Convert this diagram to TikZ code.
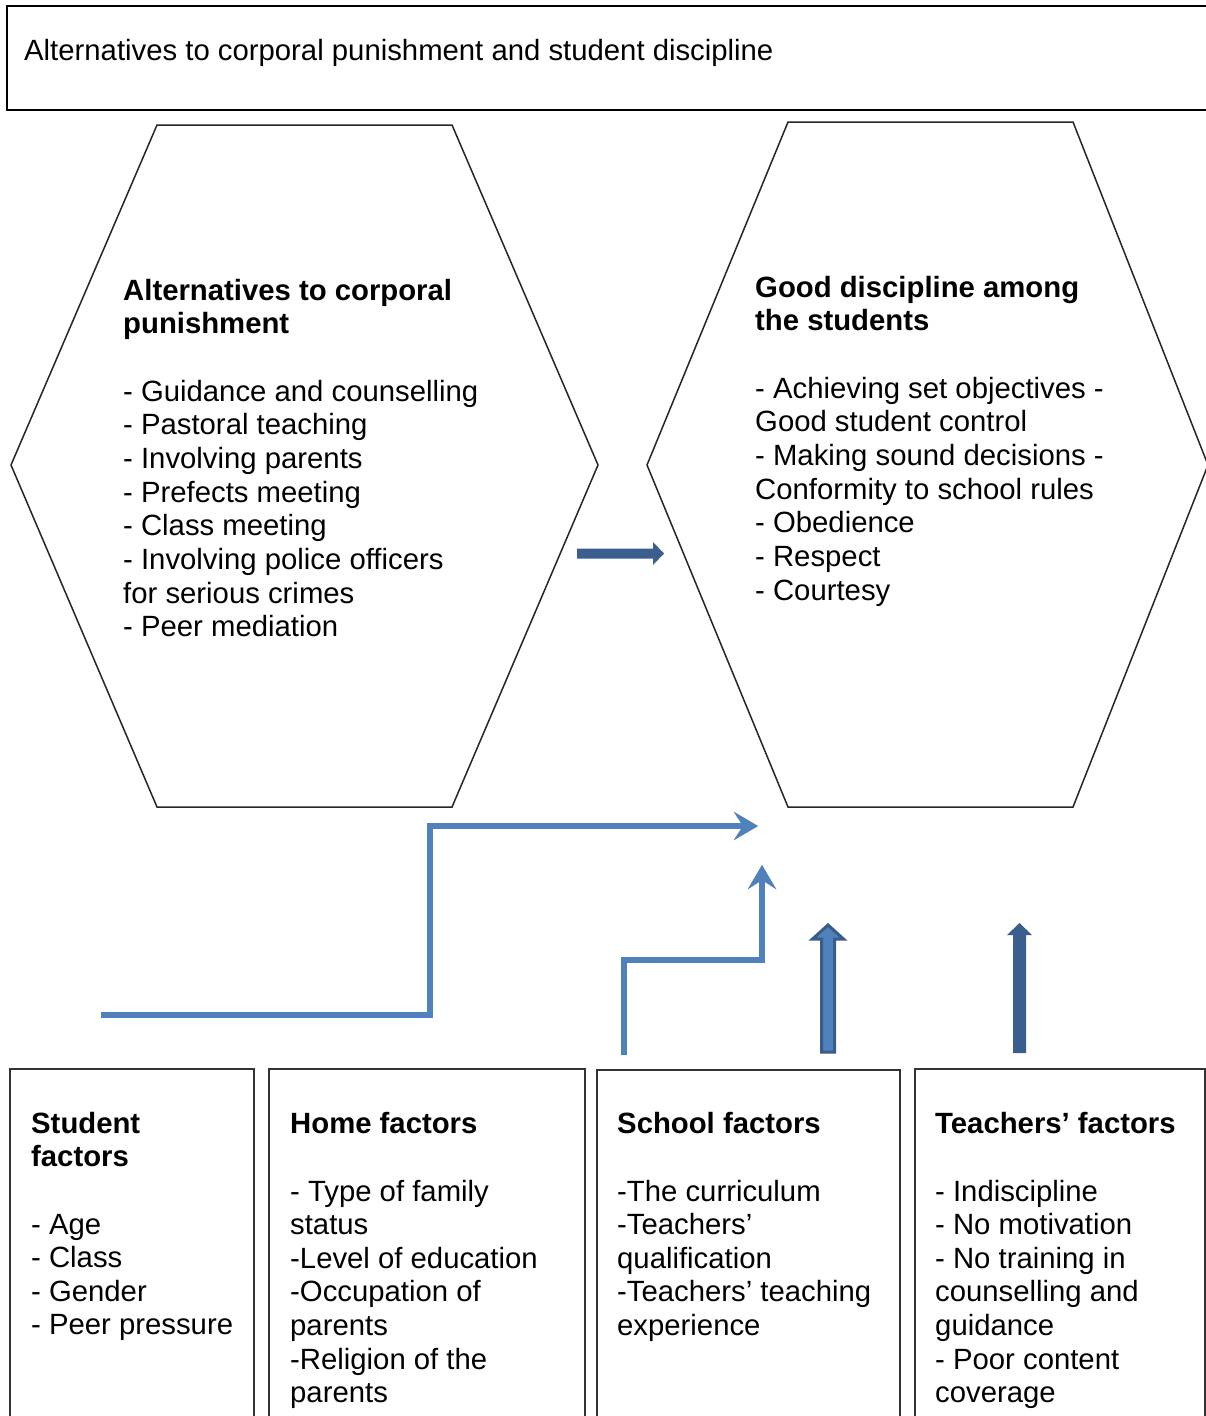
\documentclass[tikz,border=0pt]{standalone}
\usepackage{fontspec}
\setmainfont{Liberation Sans}
\usetikzlibrary{arrows.meta}
\definecolor{lblue}{HTML}{4F81BD}
\definecolor{dblue}{HTML}{3A5F8F}
\definecolor{dborder}{HTML}{385D8A}
\begin{document}
\begin{tikzpicture}[x=1pt,y=-1pt,
  txt/.style={anchor=base west, inner sep=0pt, font=\fontsize{29.3}{33.5}\selectfont},
  hdr/.style={anchor=base west, inner sep=0pt, font=\fontsize{29.3}{33.5}\selectfont\bfseries},
  hexline/.style={draw=black!85, line width=1.5pt, line join=miter},
  boxline/.style={draw=black!80, line width=1.5pt},
  titleline/.style={draw=black, line width=2.2pt},
  flow/.style={draw=lblue, line width=6pt, -{Stealth[length=24pt,width=28pt,inset=9pt]}},
  flowshadow/.style={draw=black!35, line width=6pt, -{Stealth[length=24pt,width=28pt,inset=9pt]}},
  blockdark/.style={fill=dblue, draw=none},
  blocklight/.style={fill=lblue, draw=dborder, line width=3pt, line join=miter}]
\useasboundingbox (0,0) rectangle (1206,1416);
\clip (0,0) rectangle (1206,1416);
\fill[white] (0,0) rectangle (1206,1416);

% title box
\draw[titleline] (7,6) rectangle (1215,110);
\node[txt] (title) at (24,60) {Alternatives to corporal punishment and student discipline};

% hexagons
\draw[hexline] (157,125) -- (452,125) -- (598,465) -- (452,807) -- (157,807) -- (11,465) -- cycle;
\draw[hexline] (788,122) -- (1073,122) -- (1208,465) -- (1073,807) -- (788,807) -- (647,465) -- cycle;

% hexagon 1 text
\node[hdr] (h1a) at (123,300) {Alternatives to corporal};
\node[hdr] (h1b) at (123,333) {punishment};
\foreach \t [count=\i] in {- Guidance and counselling, - Pastoral teaching, - Involving parents, - Prefects meeting, - Class meeting, - Involving police officers, for serious crimes, - Peer mediation}
  \node[txt] (h1l\i) at (123,{401+33.7*(\i-1)}) {\t};

% hexagon 2 text
\node[hdr] (h2a) at (755,297) {Good discipline among};
\node[hdr] (h2b) at (755,330) {the students};
\foreach \t [count=\i] in {- Achieving set objectives -, Good student control, - Making sound decisions -, Conformity to school rules, - Obedience, - Respect, - Courtesy}
  \node[txt] (h2l\i) at (755,{398+33.7*(\i-1)}) {\t};

% bottom boxes
\draw[boxline] (10,1430) -- (10,1069) -- (254,1069) -- (254,1430);
\draw[boxline] (269,1430) -- (269,1069) -- (585,1069) -- (585,1430);
\draw[boxline] (597,1430) -- (597,1070) -- (900,1070) -- (900,1430);
\draw[boxline] (915,1430) -- (915,1069) -- (1205,1069) -- (1205,1430);

\node[hdr] (s1) at (31,1133) {Student};
\node[hdr] (s2) at (31,1166) {factors};
\foreach \t [count=\i] in {- Age, - Class, - Gender, - Peer pressure}
  \node[txt] (sl\i) at (31,{1234+33.6*(\i-1)}) {\t};

\node[hdr] (m1) at (290,1133) {Home factors};
\foreach \t [count=\i] in {- Type of family, status, -Level of education, -Occupation of, parents, -Religion of the, parents}
  \node[txt] (ml\i) at (290,{1201+33.6*(\i-1)}) {\t};

\node[hdr] (c1) at (617,1133) {School factors};
\foreach \t [count=\i] in {-The curriculum, -Teachers’, qualification, -Teachers’ teaching, experience}
  \node[txt] (cl\i) at (617,{1201+33.6*(\i-1)}) {\t};

\node[hdr] (t1) at (935,1133) {Teachers’ factors};
\foreach \t [count=\i] in {- Indiscipline, - No motivation, - No training in, counselling and, guidance, - Poor content, coverage}
  \node[txt] (tl\i) at (935,{1201+33.6*(\i-1)}) {\t};

% connector coordinates
\coordinate (p1s) at (101,1015);
\coordinate (p1a) at (430,1015);
\coordinate (p1b) at (430,826);
\coordinate (p1e) at (758,826);
\coordinate (p2s) at (624,1055);
\coordinate (p2a) at (624,960);
\coordinate (p2b) at (762,960);
\coordinate (p2e) at (762,865);

% shadows
\begin{scope}[shift={(2,3)}]
\draw[flowshadow] (p1s) -- (p1a) -- (p1b) -- (p1e);
\draw[flowshadow] (p2s) -- (p2a) -- (p2b) -- (p2e);
\end{scope}
\draw[flow] (p1s) -- (p1a) -- (p1b) -- (p1e);
\draw[flow] (p2s) -- (p2a) -- (p2b) -- (p2e);

% block arrows
\coordinate (b1s) at (577,553.5);
\coordinate (b1e) at (664,553.5);
\fill[blockdark] (577,548.5) -- (653,548.5) -- (653,542) -- (b1e) -- (653,565) -- (653,558.5) -- (577,558.5) -- cycle;

\coordinate (b3s) at (828,1053);
\coordinate (b3e) at (828,925);
\filldraw[blocklight] (821.5,1052) -- (821.5,939) -- (812.5,939) -- (b3e) -- (843.5,939) -- (834.5,939) -- (834.5,1052) -- cycle;

\coordinate (b4s) at (1019.5,1053);
\coordinate (b4e) at (1019.5,923);
\fill[blockdark] (1013,1053) -- (1013,935) -- (1007,935) -- (b4e) -- (1032,935) -- (1026,935) -- (1026,1053) -- cycle;
\end{tikzpicture}
\end{document}
